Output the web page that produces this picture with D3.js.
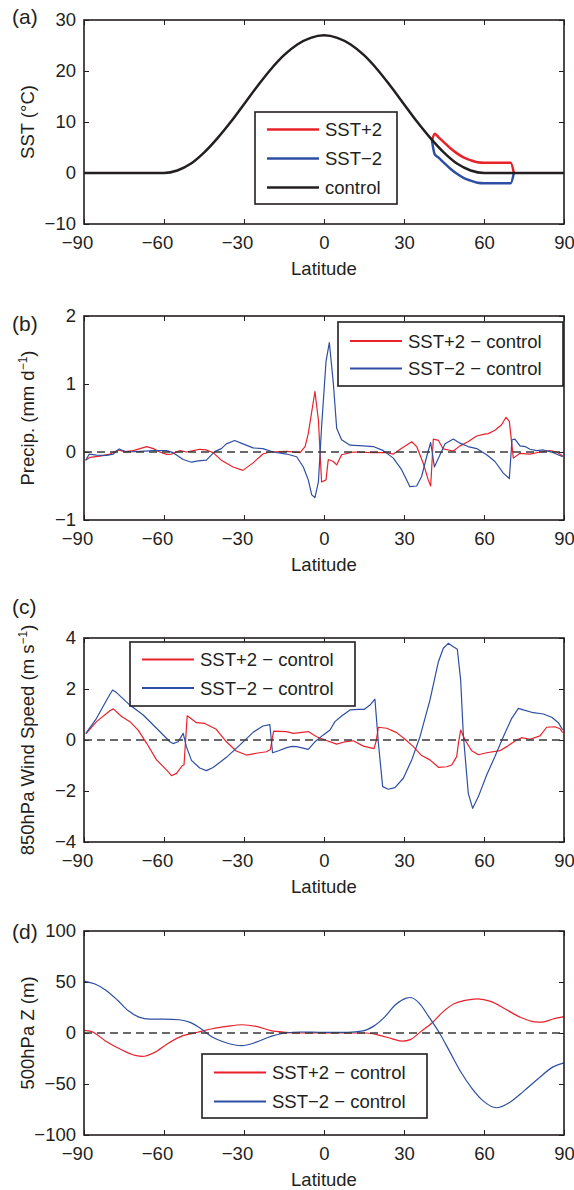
<!DOCTYPE html>
<html>
<head>
<meta charset="utf-8">
<script src="https://cdn.jsdelivr.net/npm/d3@7"></script>
<style>
  body { margin: 0; background: #fff; }
  svg text { font-family: "Liberation Sans", Arial, Helvetica, sans-serif; fill: #231f20; }
</style>
</head>
<body>
<svg id="fig" width="574" height="1190"></svg>
<script>
// ---- data ----
const latTicks = [-90, -60, -30, 0, 30, 60, 90];

// (a) SST profiles, [lat, degC]
const sstControl = [
  [-90, 0], [-85, 0], [-80, 0], [-75, 0], [-70, 0], [-65, 0], [-60, 0],
  [-55, 0.5], [-50, 1.8], [-45, 4.0], [-40, 6.8], [-35, 10.0], [-30, 13.5],
  [-25, 17.0], [-20, 20.3], [-15, 23.1], [-10, 25.2], [-5, 26.5], [0, 27.0],
  [5, 26.5], [10, 25.2], [15, 23.1], [20, 20.3], [25, 17.0], [30, 13.5],
  [35, 10.0], [40, 6.8], [45, 4.0], [50, 1.8], [55, 0.5], [60, 0],
  [65, 0], [70, 0], [75, 0], [80, 0], [85, 0], [90, 0]
];
const sstPlus = [
  [40.5, 6.3], [41.5, 7.7], [43, 7.0], [45, 6.0], [47.5, 4.8], [50, 3.8],
  [52.5, 3.0], [55, 2.5], [57.5, 2.1], [60, 2.0], [70, 2.0], [71.2, 0]
];
const sstMinus = [
  [40.5, 6.3], [41.5, 3.7], [43, 3.0], [45, 2.0], [47.5, 0.8], [50, -0.2],
  [52.5, -1.0], [55, -1.5], [57.5, -1.9], [60, -2.0], [70, -2.0], [71.2, 0]
];

// (b) precipitation anomaly, [lat, mm/d]
const precipPlus = [
  [-89.5, -0.12], [-87.8, -0.08], [-84, -0.06], [-80.3, -0.03], [-77.2, 0.03], [-74.7, 0.005],
  [-71.5, 0.02], [-66.5, 0.08], [-64, 0.05], [-61.6, 0], [-59, -0.035], [-57.2, -0.03],
  [-54, 0.02], [-51.6, 0], [-49, 0.02], [-46.6, 0.04], [-44.1, 0.03], [-41.6, -0.01],
  [-38.5, -0.12], [-34.1, -0.22], [-30.4, -0.27], [-26.6, -0.16], [-22.9, -0.03], [-20.4, 0],
  [-14, 0.01], [-9, -0.01], [-7.1, 0.08], [-5.9, 0.27], [-3.4, 0.89], [-2.1, 0.47],
  [-0.9, -0.44], [0.75, -0.41], [1.6, -0.11], [3.5, -0.14], [4.75, -0.19], [6.6, -0.04],
  [11, 0], [18.5, -0.01], [23.5, -0.01], [26, -0.03], [29, 0.05], [32.9, 0.15],
  [34.75, 0.08], [37.25, -0.17], [39.1, -0.41], [40, -0.5], [41, 0.19], [42.9, 0.17],
  [44.75, 0.045], [48.5, 0.015], [51, 0.09], [54, 0.15], [57.25, 0.235], [59.75, 0.26],
  [61.6, 0.27], [64.1, 0.32], [66.6, 0.4], [68.25, 0.51], [69.5, 0.45], [71, -0.09],
  [73.5, -0.02], [77.25, -0.03], [81, 0], [84.75, 0.02], [87.25, 0], [89.5, -0.06]
];
const precipMinus = [
  [-89.3, -0.12], [-88, -0.03], [-85.3, -0.045], [-81.5, -0.05], [-79, -0.03], [-76.8, 0.045],
  [-74, 0], [-69, 0.01], [-64, 0.02], [-59, 0.02], [-56.6, -0.01], [-52.8, -0.11],
  [-49.7, -0.15], [-47.2, -0.13], [-44.1, -0.12], [-41, 0.005], [-38.5, 0.05], [-36.6, 0.12],
  [-33.5, 0.17], [-30.4, 0.12], [-26.6, 0.06], [-22.9, 0.05], [-19.1, 0], [-14, -0.03],
  [-10.25, -0.07], [-7.75, -0.22], [-5.9, -0.41], [-4.6, -0.63], [-3.4, -0.67], [-2.1, -0.44],
  [-0.9, 0.37], [0.75, 1.33], [2, 1.61], [3.5, 1.01], [4.75, 0.35], [6.6, 0.18],
  [9.75, 0.1], [14.75, 0.09], [18.5, 0.08], [22.25, 0.02], [26, -0.09], [29.1, -0.26],
  [32.25, -0.51], [34.75, -0.5], [36.6, -0.36], [38.5, -0.07], [40, 0.14], [41.4, -0.22],
  [43.5, -0.04], [45.4, 0.12], [48.5, 0.19], [51, 0.13], [54, 0.08], [57.25, 0.05],
  [61, -0.04], [64.1, -0.14], [67.25, -0.31], [69.5, -0.39], [70.5, 0.18], [71.6, 0.19],
  [73.5, 0.09], [75.4, 0.08], [77.25, 0.04], [79.75, 0.02], [82.25, 0.03], [86, -0.01], [89.5, -0.07]
];

// (c) 850 hPa wind speed anomaly, [lat, m/s]
const windPlus = [
  [-89.3, 0.24], [-85.3, 0.72], [-80.3, 1.15], [-79, 1.22], [-75.9, 0.92], [-72.8, 0.72],
  [-69.7, 0.39], [-66.5, -0.13], [-62.8, -0.78], [-59, -1.18], [-57.2, -1.4], [-55.3, -1.31],
  [-53.1, -1.0], [-52.5, -0.98], [-51.3, 0.95], [-47.8, 0.68], [-44.7, 0.65], [-40.4, 0.42],
  [-36.6, -0.07], [-32.9, -0.43], [-29.1, -0.59], [-25.4, -0.52], [-21.6, -0.46], [-20.1, -0.37],
  [-18.9, 0.35], [-14, 0.33], [-11.5, 0.26], [-9, 0.29], [-5.9, 0.33], [-2.75, 0.13],
  [0.4, 0], [4.75, -0.16], [7.9, -0.07], [11, -0.03], [14.75, -0.24], [18.75, -0.34],
  [19.5, -0.07], [20.4, 0.5], [23.5, 0.46], [27.25, 0.29], [30.4, 0.03], [33.5, -0.26],
  [36.6, -0.61], [39.75, -0.78], [42.9, -1.07], [46, -1.05], [47.9, -0.98], [49.75, -0.65],
  [50.4, -0.13], [51.25, 0.39], [52.9, 0], [55.4, -0.42], [57.9, -0.58], [61, -0.5],
  [66, -0.42], [68.5, -0.26], [72.25, 0], [74.1, 0.09], [77.25, 0.03], [81, 0.16],
  [83.5, 0.5], [86.6, 0.52], [88.5, 0.44], [89.5, 0.29]
];
const windMinus = [
  [-89.3, 0.26], [-85.3, 0.85], [-81.5, 1.57], [-79.3, 1.96], [-77.8, 1.86], [-72.8, 1.37],
  [-67.8, 0.98], [-62.8, 0.46], [-57.8, -0.07], [-56.6, -0.14], [-54.7, -0.07], [-52.8, 0.26],
  [-51.6, -0.26], [-49.7, -0.8], [-46.6, -1.1], [-44.1, -1.2], [-41.6, -1.08], [-36.6, -0.68],
  [-31.6, -0.2], [-26.6, 0.3], [-22.9, 0.55], [-20.3, 0.6], [-19.3, -0.5], [-17, -0.42],
  [-14, -0.3], [-12, -0.25], [-10.25, -0.26], [-5.9, -0.37], [-3.4, -0.07], [-0.25, 0.2],
  [2.25, 0.39], [4.1, 0.72], [6.6, 0.94], [9.75, 1.18], [12.9, 1.2], [15, 1.2],
  [17.25, 1.37], [19.1, 1.6], [20.4, -0.13], [22, -1.83], [24.1, -1.93], [26.6, -1.87],
  [29.75, -1.5], [32.9, -0.78], [36, 0.13], [39.75, 1.57], [42.9, 3.07], [44.75, 3.6],
  [46.6, 3.79], [48.5, 3.66], [50, 3.56], [51.25, 2.35], [52.25, 0.2], [54.1, -2.09],
  [55.75, -2.68], [57.9, -2.22], [61, -1.37], [64.1, -0.65], [67.25, 0.13], [70.4, 0.85],
  [72.9, 1.24], [74.75, 1.18], [78.5, 1.07], [82.25, 1.02], [85.4, 0.89], [87.9, 0.68], [89.5, 0.39]
];

// (d) 500 hPa geopotential height anomaly, [lat, m]
const zPlus = [
  [-90, 2.6], [-87.3, 1.6], [-81.8, -8], [-76.3, -16], [-70.8, -22], [-68, -23],
  [-63.9, -19.5], [-58.4, -10], [-52.9, -2.6], [-47.4, 0.7], [-41.9, 4.2], [-36.4, 6.5],
  [-30.9, 8.1], [-25.4, 6.5], [-19.9, 2.3], [-14.4, 0.7], [-8.9, 0], [0, 0],
  [8.9, 0], [15.8, 0], [21.3, -2.6], [25.4, -5.5], [29.5, -8], [32.3, -6.5],
  [36.4, 1.6], [40.5, 9.8], [44.7, 21], [48.8, 28.7], [52.9, 32], [57.7, 33.5],
  [62.5, 31], [68, 23.5], [73.5, 15.6], [79, 11], [81.8, 10.7], [85.9, 13.7], [90, 16]
];
const zMinus = [
  [-90, 50.8], [-85.9, 48], [-81.8, 42], [-77.6, 32.6], [-73.5, 22], [-69.4, 15.6],
  [-65.3, 13.7], [-59.8, 13.7], [-54.3, 13], [-50.2, 10.4], [-46, 4], [-41.9, -4],
  [-36.4, -9.8], [-30.9, -12.4], [-25.4, -9], [-19.9, -3.3], [-14.4, 0], [-8.9, 1],
  [0, 0.6], [8.9, 0.6], [14.6, 2], [18.5, 6.5], [22.7, 15.6], [26.8, 27.7],
  [30.9, 34.2], [32.3, 34.8], [35.7, 29.3], [39.2, 16.3], [43.3, 0], [47.4, -19.5],
  [51.5, -39], [55.6, -54.7], [59.8, -66.8], [64.6, -73.3], [69.4, -68.4], [74.9, -57],
  [80.4, -44.6], [85.9, -33.2], [90, -29.3]
];

// ---- drawing ----
const RED = '#e8212b', BLUE = '#2d4fa3', INK = '#231f20';
const X0 = 84, X1 = 564, PH = 204;
const FS = 18.5;

const svg = d3.select('#fig');
const x = d3.scaleLinear().domain([-90, 90]).range([X0, X1]);

function panel(o) {
  const y = d3.scaleLinear().domain(o.ydomain).range([o.top + PH, o.top]);
  const g = svg.append('g');

  const line = d3.line()
    .x(d => x(d[0]))
    .y(d => y(d[1]))
    .curve(o.curve || d3.curveLinear);

  // axes, ticks pointing inward on all four sides
  const axes = [
    [d3.axisBottom(x).tickValues(latTicks).tickFormat(d3.format('d')).tickPadding(12), `translate(0,${o.top + PH})`],
    [d3.axisTop(x).tickValues(latTicks).tickFormat(''), `translate(0,${o.top})`],
    [d3.axisLeft(y).tickValues(o.yticks).tickFormat(d3.format('d')).tickPadding(8), `translate(${X0},0)`],
    [d3.axisRight(y).tickValues(o.yticks).tickFormat(''), `translate(${X1},0)`],
  ];
  axes.forEach(([ax, tr], i) => {
    const a = g.append('g')
      .attr('transform', tr)
      .call(ax.tickSize(-5))
      .attr('font-size', FS)
      .attr('color', INK);
    a.select('.domain').remove();
    a.selectAll('.tick line').attr('stroke-width', 1);
    if (i === 0)
      a.selectAll('.tick text').attr('dx', d => d < 0 ? -7 : 0);
  });

  // series
  o.series.forEach(s => {
    g.append('path')
      .datum(s.data)
      .attr('fill', 'none')
      .attr('stroke', s.color)
      .attr('stroke-width', o.lw)
      .attr('stroke-linejoin', 'round')
      .attr('d', line);
  });

  if (o.zero)
    g.append('line')
      .attr('x1', X0).attr('x2', X1)
      .attr('y1', y(0)).attr('y2', y(0))
      .attr('stroke', '#3a3a3a')
      .attr('stroke-width', 1.3)
      .attr('stroke-dasharray', '8,5');

  // frame
  g.append('rect')
    .attr('x', X0).attr('y', o.top)
    .attr('width', X1 - X0).attr('height', PH)
    .attr('fill', 'none')
    .attr('stroke', INK)
    .attr('stroke-width', 1.6);

  // labels
  g.append('text')
    .attr('x', (X0 + X1) / 2).attr('y', o.top + PH + 51)
    .attr('text-anchor', 'middle')
    .attr('font-size', FS)
    .text('Latitude');

  const yl = g.append('text')
    .attr('transform', `translate(34,${o.top + PH / 2}) rotate(-90)`)
    .attr('text-anchor', 'middle')
    .attr('font-size', FS);
  yl.append('tspan').text(o.ylabel);
  if (o.ysup) {
    yl.append('tspan').attr('dy', -7).attr('font-size', 12).text(o.ysup);
    yl.append('tspan').attr('dy', 7).text(')');
  }

  g.append('text')
    .attr('x', 12).attr('y', o.labelY)
    .attr('font-size', 21)
    .text(o.label);

  // legend
  const L = o.legend;
  const lg = g.append('g').attr('transform', `translate(${L.x},${L.y})`);
  lg.append('rect')
    .attr('width', L.w).attr('height', L.h)
    .attr('fill', '#fff')
    .attr('stroke', INK)
    .attr('stroke-width', 1.6);
  L.rows.forEach((r, i) => {
    const ry = L.first + i * L.step;
    lg.append('line')
      .attr('x1', 12).attr('x2', 64)
      .attr('y1', ry).attr('y2', ry)
      .attr('stroke', r.color)
      .attr('stroke-width', L.lw);
    lg.append('text')
      .attr('x', 70).attr('y', ry)
      .attr('dy', '0.36em')
      .attr('font-size', FS)
      .text(r.label);
  });
}

const diffRows = [
  { label: 'SST+2 \u2212 control', color: RED },
  { label: 'SST\u22122 \u2212 control', color: BLUE },
];

panel({
  top: 20, ydomain: [-10, 30], yticks: [-10, 0, 10, 20, 30],
  ylabel: 'SST (\u00B0C)', label: '(a)', labelY: 24, lw: 2.5,
  curve: d3.curveMonotoneX,
  series: [
    { data: sstPlus, color: RED },
    { data: sstMinus, color: BLUE },
    { data: sstControl, color: INK },
  ],
  legend: {
    x: 255, y: 112, w: 142, h: 92, first: 17.5, step: 29, lw: 2.5,
    rows: [
      { label: 'SST+2', color: RED },
      { label: 'SST\u22122', color: BLUE },
      { label: 'control', color: INK },
    ]
  }
});

panel({
  top: 316, ydomain: [-1, 2], yticks: [-1, 0, 1, 2],
  ylabel: 'Precip. (mm d', ysup: '\u22121', label: '(b)', labelY: 331, lw: 1.2, zero: true,
  series: [
    { data: precipPlus, color: RED },
    { data: precipMinus, color: BLUE },
  ],
  legend: { x: 338, y: 322, w: 225, h: 64, first: 19, step: 27.6, lw: 2, rows: diffRows }
});

panel({
  top: 638, ydomain: [-4, 4], yticks: [-4, -2, 0, 2, 4],
  ylabel: '850hPa Wind Speed (m s', ysup: '\u22121', label: '(c)', labelY: 614, lw: 1.2, zero: true,
  series: [
    { data: windPlus, color: RED },
    { data: windMinus, color: BLUE },
  ],
  legend: { x: 130, y: 642, w: 225, h: 64, first: 17.5, step: 28.4, lw: 2, rows: diffRows }
});

panel({
  top: 931, ydomain: [-100, 100], yticks: [-100, -50, 0, 50, 100],
  ylabel: '500hPa Z (m)', label: '(d)', labelY: 939, lw: 1.2, zero: true,
  curve: d3.curveMonotoneX,
  series: [
    { data: zPlus, color: RED },
    { data: zMinus, color: BLUE },
  ],
  legend: { x: 202, y: 1054, w: 225, h: 64, first: 18.5, step: 29, lw: 2, rows: diffRows }
});
</script>
</body>
</html>
